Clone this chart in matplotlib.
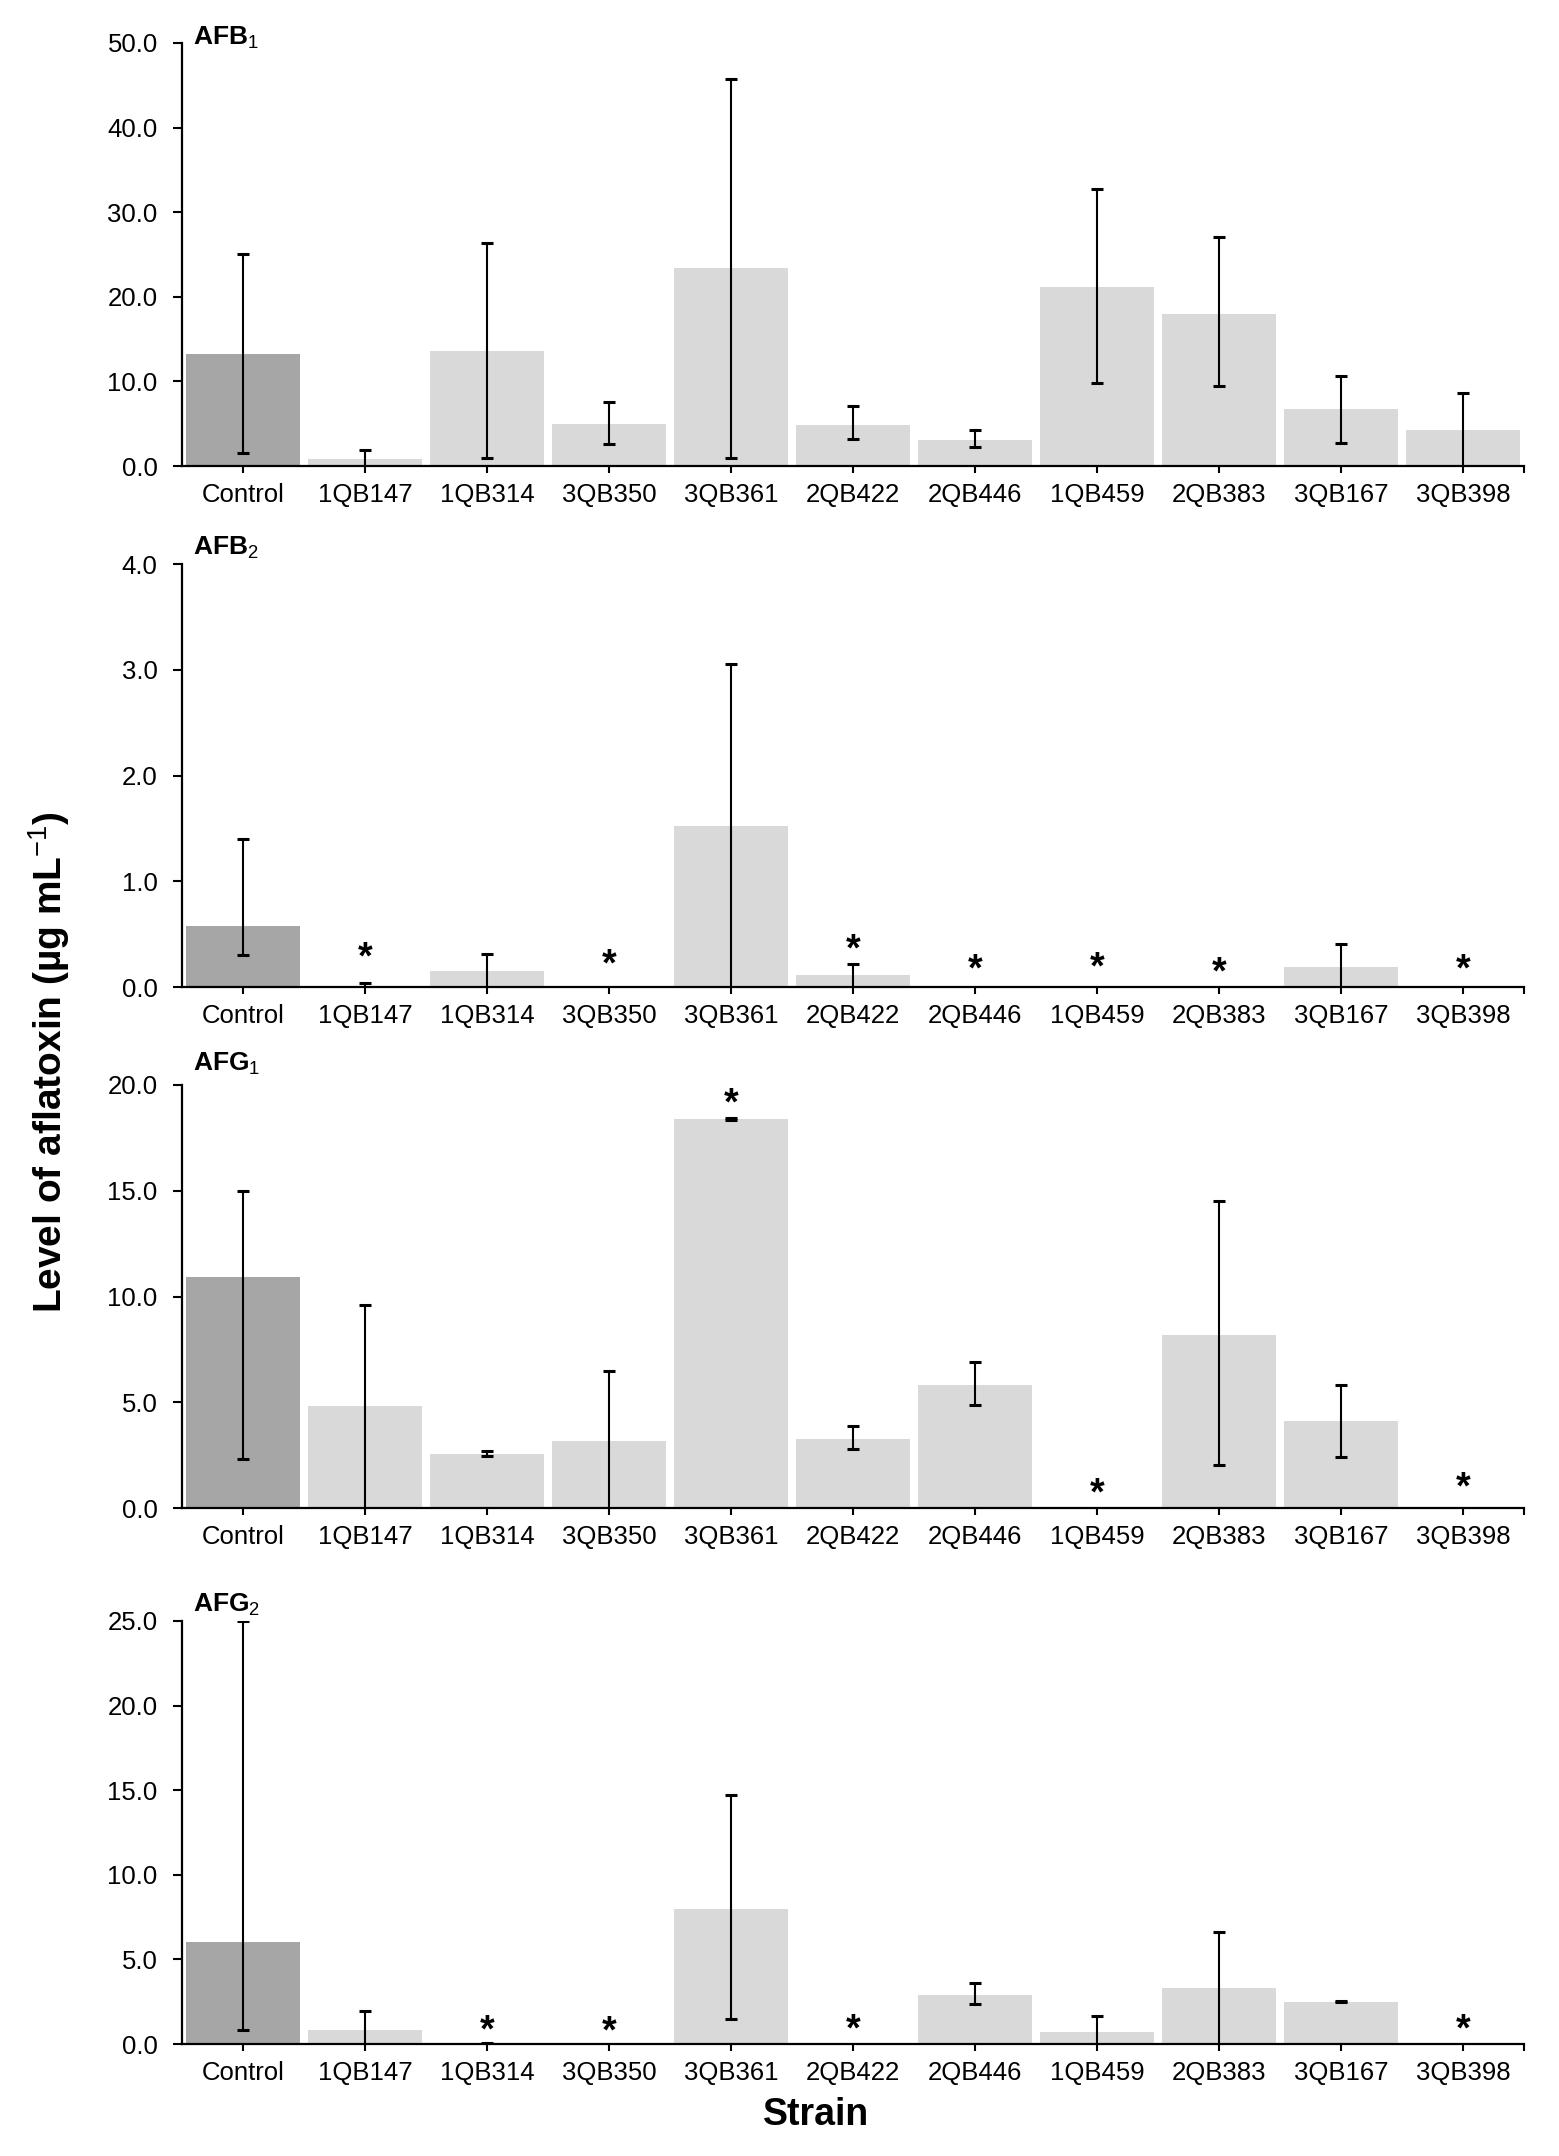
import numpy as np
import matplotlib
matplotlib.use("Agg")
import matplotlib.pyplot as plt

plt.rcParams['font.family'] = ['Liberation Sans', 'DejaVu Sans']
plt.rcParams['mathtext.fontset'] = 'custom'
plt.rcParams['mathtext.rm'] = 'Liberation Sans'
plt.rcParams['mathtext.bf'] = 'Liberation Sans:bold'

nan = np.nan

strains = ['Control', '1QB147', '1QB314', '3QB350', '3QB361', '2QB422',
           '2QB446', '1QB459', '2QB383', '3QB167', '3QB398']

# mean values, lower / upper ends of error bars, asterisk heights
afb1 = [13.2, 0.8, 13.6, 5.0, 23.4, 4.9, 3.1, 21.1, 18.0, 6.7, 4.2]
afb1_lo = [1.5, -0.3, 1.0, 2.6, 1.0, 3.2, 2.3, 9.8, 9.5, 2.7, -0.2]
afb1_hi = [25.0, 1.9, 26.4, 7.6, 45.8, 7.1, 4.2, 32.8, 27.1, 10.6, 8.6]
afb1_star = [nan] * 11

afb2 = [0.58, 0.0, 0.15, 0.0, 1.52, 0.11, 0.0, 0.0, 0.0, 0.19, 0.0]
afb2_lo = [0.30, -0.04, -0.01, nan, -0.01, -0.01, nan, nan, nan, -0.03, nan]
afb2_hi = [1.40, 0.04, 0.31, nan, 3.05, 0.22, nan, nan, nan, 0.41, nan]
afb2_star = [nan, 0.35, nan, 0.28, nan, 0.42, 0.23, 0.25, 0.20, nan, 0.23]

afg1 = [10.9, 4.8, 2.55, 3.15, 18.4, 3.25, 5.8, 0.0, 8.2, 4.1, 0.0]
afg1_lo = [2.3, -0.1, 2.45, -0.2, 18.35, 2.8, 4.85, nan, 2.05, 2.4, nan]
afg1_hi = [15.0, 9.6, 2.7, 6.5, 18.45, 3.9, 6.9, nan, 14.5, 5.8, nan]
afg1_star = [nan, nan, nan, nan, 19.45, nan, nan, 1.0, nan, nan, 1.3]

afg2 = [6.05, 0.85, 0.0, 0.0, 8.0, 0.0, 2.9, 0.72, 3.3, 2.5, 0.0]
afg2_lo = [0.8, -0.2, -0.05, nan, 1.45, nan, 2.35, -0.2, -0.1, 2.46, nan]
afg2_hi = [25.0, 1.95, 0.05, nan, 14.7, nan, 3.6, 1.65, 6.6, 2.56, nan]
afg2_star = [nan, nan, 1.22, 1.17, nan, 1.27, nan, nan, nan, nan, 1.27]

panels = [
    (r'AFB$_1$', afb1, afb1_lo, afb1_hi, afb1_star, 50, 10),
    (r'AFB$_2$', afb2, afb2_lo, afb2_hi, afb2_star, 4, 1),
    (r'AFG$_1$', afg1, afg1_lo, afg1_hi, afg1_star, 20, 5),
    (r'AFG$_2$', afg2, afg2_lo, afg2_hi, afg2_star, 25, 5),
]

W, H = 1559, 2156
fig = plt.figure(figsize=(W / 100, H / 100), dpi=100)

ax_left = 182 / W
ax_width = 1342 / W
ax_h = 423 / H
ax_bottoms = [466, 987, 1508, 2044]
title_offsets = [4, 12, 15, 12]   # points above axes top

x = np.arange(len(strains))
colors = ['#a6a6a6'] + ['#d9d9d9'] * (len(strains) - 1)

for (title, vals, lo, hi, stars, ymax, step), yb, toff in zip(panels, ax_bottoms, title_offsets):
    ax = fig.add_axes([ax_left, 1 - yb / H, ax_width, ax_h])
    vals = np.array(vals)
    lo = np.array(lo)
    hi = np.array(hi)
    ax.bar(x, vals, width=0.93, color=colors, zorder=1)
    m = ~np.isnan(hi)
    ax.errorbar(x[m], vals[m], yerr=[vals[m] - lo[m], hi[m] - vals[m]],
                fmt='none', ecolor='black', elinewidth=1.5, capsize=4.5,
                capthick=2.2, zorder=3)
    for xi, s in zip(x, stars):
        if not np.isnan(s):
            ax.annotate('*', (xi, s), xytext=(0, -13), textcoords='offset points',
                        ha='center', va='baseline', fontsize=27, fontweight='bold')

    ax.set_xlim(-0.5, len(strains) - 0.5)
    ax.set_ylim(0, ymax)
    ax.set_yticks(np.arange(0, ymax + step / 2, step))
    ax.yaxis.set_major_formatter(matplotlib.ticker.FormatStrFormatter('%.1f'))
    ax.set_xticks(x)
    ax.set_xticklabels(strains)
    ax.set_xticks([len(strains) - 0.5], minor=True)
    for side in ['top', 'right']:
        ax.spines[side].set_visible(False)
    for side in ['left', 'bottom']:
        ax.spines[side].set_linewidth(1.6)
        ax.spines[side].set_zorder(4)
    ax.tick_params(axis='y', which='major', direction='out', length=6.5, width=1.5,
                   pad=11, labelsize=18.5)
    ax.tick_params(axis='x', which='both', direction='out', length=5, width=1.5,
                   pad=7, labelsize=18.5)
    ax.annotate(title, (0, 1), xytext=(8, toff), xycoords='axes fraction',
                textcoords='offset points', ha='left', va='center',
                fontsize=19, fontweight='bold')

fig.text(49 / W, 1 - 1062 / H, r'Level of aflatoxin (µg mL$^{-1}$)', rotation=90,
         ha='center', va='center', fontsize=28, fontweight='bold')
fig.text(816 / W, 1 - 2115 / H, 'Strain', ha='center', va='center',
         fontsize=27, fontweight='bold')

fig.savefig('out.png', dpi=100)
